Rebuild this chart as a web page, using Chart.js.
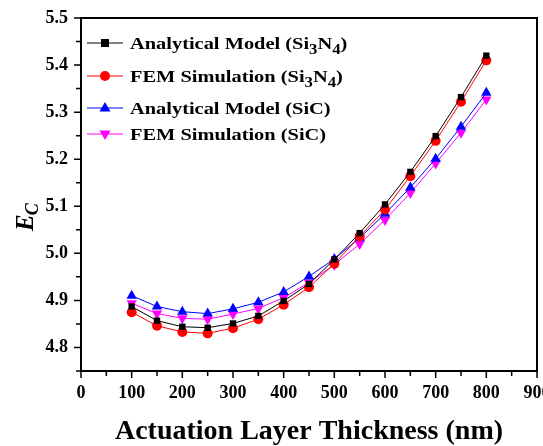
<!DOCTYPE html>
<html lang="en">
<head>
<meta charset="UTF-8">
<script src="https://cdn.jsdelivr.net/npm/chart.js"></script>
<title>Ec vs thickness</title>
<style>
  html, body { margin: 0; padding: 0; background: #fff; }
  #wrap { width: 543px; height: 446px; }
</style>
</head>
<body>
<div id="wrap"><canvas id="grafico" width="543" height="446"></canvas></div>
<script>
    // espessura da camada (nm)
    const espessura = [100, 150, 200, 250, 300, 350, 400, 450, 500, 550, 600, 650, 700, 750, 800];

    const analiticoSi3N4 = [4.887, 4.857, 4.844, 4.842, 4.851, 4.867, 4.899, 4.935, 4.987, 5.043, 5.104, 5.173, 5.249, 5.332, 5.420];
    const femSi3N4 = [4.875, 4.846, 4.833, 4.830, 4.841, 4.860, 4.891, 4.928, 4.978, 5.036, 5.093, 5.164, 5.239, 5.322, 5.410];
    const analiticoSiC = [4.910, 4.887, 4.876, 4.872, 4.882, 4.896, 4.918, 4.951, 4.988, 5.033, 5.084, 5.140, 5.201, 5.269, 5.341];
    const femSiC = [4.894, 4.872, 4.862, 4.860, 4.871, 4.883, 4.906, 4.938, 4.976, 5.020, 5.071, 5.128, 5.191, 5.256, 5.327];

    const xTicks = [0, 100, 200, 300, 400, 500, 600, 700, 800, 900];
    const yTicks = [4.8, 4.9, 5.0, 5.1, 5.2, 5.3, 5.4, 5.5];

    const serie = (dados, cor, estilo, rot, raio) => ({
        data: espessura.map((x, i) => ({ x: x, y: dados[i] })),
        borderColor: cor,
        backgroundColor: cor,
        borderWidth: 1,
        pointStyle: estilo,
        pointRotation: rot,
        pointRadius: raio,
        pointBorderWidth: 0,
        tension: 0
    });

    const fonteTick = { family: 'Liberation Serif', size: 18, weight: 'bold' };

    // escreve texto com subscritos, esticado na horizontal
    function textoSub(ctx, partes, x, y, tam, esticar) {
        ctx.save();
        ctx.translate(x, y);
        ctx.scale(esticar, 1);
        let px = 0;
        partes.forEach(([t, sub]) => {
            ctx.font = 'bold ' + (sub ? Math.round(tam * 0.8) : tam) + 'px "Liberation Serif"';
            ctx.fillText(t, px, sub ? 5 : 0);
            px += ctx.measureText(t).width;
        });
        ctx.restore();
    }

    const extras = {
        id: 'extras',
        afterDraw(chart) {
            const ctx = chart.ctx;
            const a = chart.chartArea;
            const sx = chart.scales.x, sy = chart.scales.y;

            // titulo eixo y: E com subscrito C
            ctx.save();
            ctx.fillStyle = '#000';
            ctx.translate(33, 231);
            ctx.rotate(-Math.PI / 2);
            ctx.font = 'italic bold 25px "Liberation Serif"';
            ctx.fillText('E', 0, 0);
            const wE = ctx.measureText('E').width;
            ctx.font = 'italic bold 18px "Liberation Serif"';
            ctx.fillText('C', wE - 1, 5);
            ctx.restore();

            // legenda
            const itens = [
                { cor: '#000000', m: 'square', txt: [['Analytical Model (Si', 0], ['3', 1], ['N', 0], ['4', 1], [')', 0]], y: 43 },
                { cor: '#ff0000', m: 'circle', txt: [['FEM Simulation (Si', 0], ['3', 1], ['N', 0], ['4', 1], [')', 0]], y: 76 },
                { cor: '#0000ff', m: 'up', txt: [['Analytical Model (SiC)', 0]], y: 108 },
                { cor: '#ff00ff', m: 'down', txt: [['FEM Simulation (SiC)', 0]], y: 134 }
            ];
            ctx.save();
            itens.forEach(it => {
                ctx.strokeStyle = it.cor;
                ctx.fillStyle = it.cor;
                ctx.lineWidth = 1;
                ctx.beginPath();
                ctx.moveTo(87, it.y);
                ctx.lineTo(123, it.y);
                ctx.stroke();
                const cx = 105, cy = it.y;
                ctx.beginPath();
                if (it.m === 'square') {
                    ctx.rect(cx - 4, cy - 4, 8, 8);
                } else if (it.m === 'circle') {
                    ctx.arc(cx, cy, 5, 0, Math.PI * 2);
                } else if (it.m === 'up') {
                    ctx.moveTo(cx, cy - 6); ctx.lineTo(cx + 5.5, cy + 3.5); ctx.lineTo(cx - 5.5, cy + 3.5);
                } else {
                    ctx.moveTo(cx, cy + 6); ctx.lineTo(cx + 5.5, cy - 3.5); ctx.lineTo(cx - 5.5, cy - 3.5);
                }
                ctx.closePath();
                ctx.fill();

                ctx.fillStyle = '#000';
                ctx.textBaseline = 'alphabetic';
                textoSub(ctx, it.txt, 130, it.y + 6, 17, 1.2);
            });
            ctx.restore();

            // ticks (maiores e menores)
            ctx.save();
            ctx.strokeStyle = '#000000';
            ctx.lineWidth = 1.5;
            ctx.beginPath();
            for (let v = 0; v <= 900; v += 50) {
                const px = sx.getPixelForValue(v);
                const len = (v % 100 === 0) ? 7 : 5;
                ctx.moveTo(px, a.bottom);
                ctx.lineTo(px, a.bottom + len);
            }
            for (let k = 0; k <= 15; k++) {
                const py = sy.getPixelForValue(4.75 + k * 0.05);
                const len = (k % 2 === 1) ? 7 : 5;
                ctx.moveTo(a.left, py);
                ctx.lineTo(a.left - len, py);
            }
            ctx.stroke();

            // moldura, desenhada por ultimo
            ctx.strokeStyle = '#000000';
            ctx.lineWidth = 2;
            ctx.strokeRect(a.left, a.top, a.right - a.left, a.bottom - a.top);
            ctx.restore();
        }
    };

    const eixoGrid = { display: false, tickLength: 6 };

    new Chart(document.getElementById('grafico').getContext('2d'), {
        type: 'line',
        data: {
            datasets: [
                serie(analiticoSi3N4, '#000000', 'rect', 0, 4.5),
                serie(femSi3N4, '#ff0000', 'circle', 0, 5),
                serie(analiticoSiC, '#0000ff', 'triangle', 0, 6),
                serie(femSiC, '#ff00ff', 'triangle', 180, 6)
            ]
        },
        options: {
            responsive: false,
            animation: false,
            layout: { padding: { top: 18, right: 5, left: 0, bottom: 0 } },
            plugins: { legend: { display: false }, tooltip: { enabled: false } },
            scales: {
                x: {
                    type: 'linear',
                    min: 0, max: 900,
                    afterFit: s => { s.height = 75; s.paddingRight = 0; s.paddingLeft = 0; },
                    afterBuildTicks: s => { s.ticks = xTicks.map(v => ({ value: v })); },
                    grid: eixoGrid,
                    border: { display: false },
                    ticks: { color: '#000', font: fonteTick, padding: 6, maxRotation: 0, autoSkip: false },
                    title: {
                        display: true,
                        text: 'Actuation Layer Thickness (nm)',
                        color: '#000',
                        font: { family: 'Liberation Serif', size: 28, weight: 'bold', lineHeight: 1 },
                        padding: { top: 6, bottom: 0 }
                    }
                },
                y: {
                    type: 'linear',
                    min: 4.75, max: 5.5,
                    afterFit: s => { s.width = 81; s.paddingTop = 0; s.paddingBottom = 0; },
                    afterBuildTicks: s => { s.ticks = yTicks.map(v => ({ value: v })); },
                    grid: eixoGrid,
                    border: { display: false },
                    ticks: {
                        color: '#000', font: fonteTick, padding: 7,
                        callback: v => v.toFixed(1)
                    }
                }
            }
        },
        plugins: [extras]
    });
</script>
</body>
</html>
